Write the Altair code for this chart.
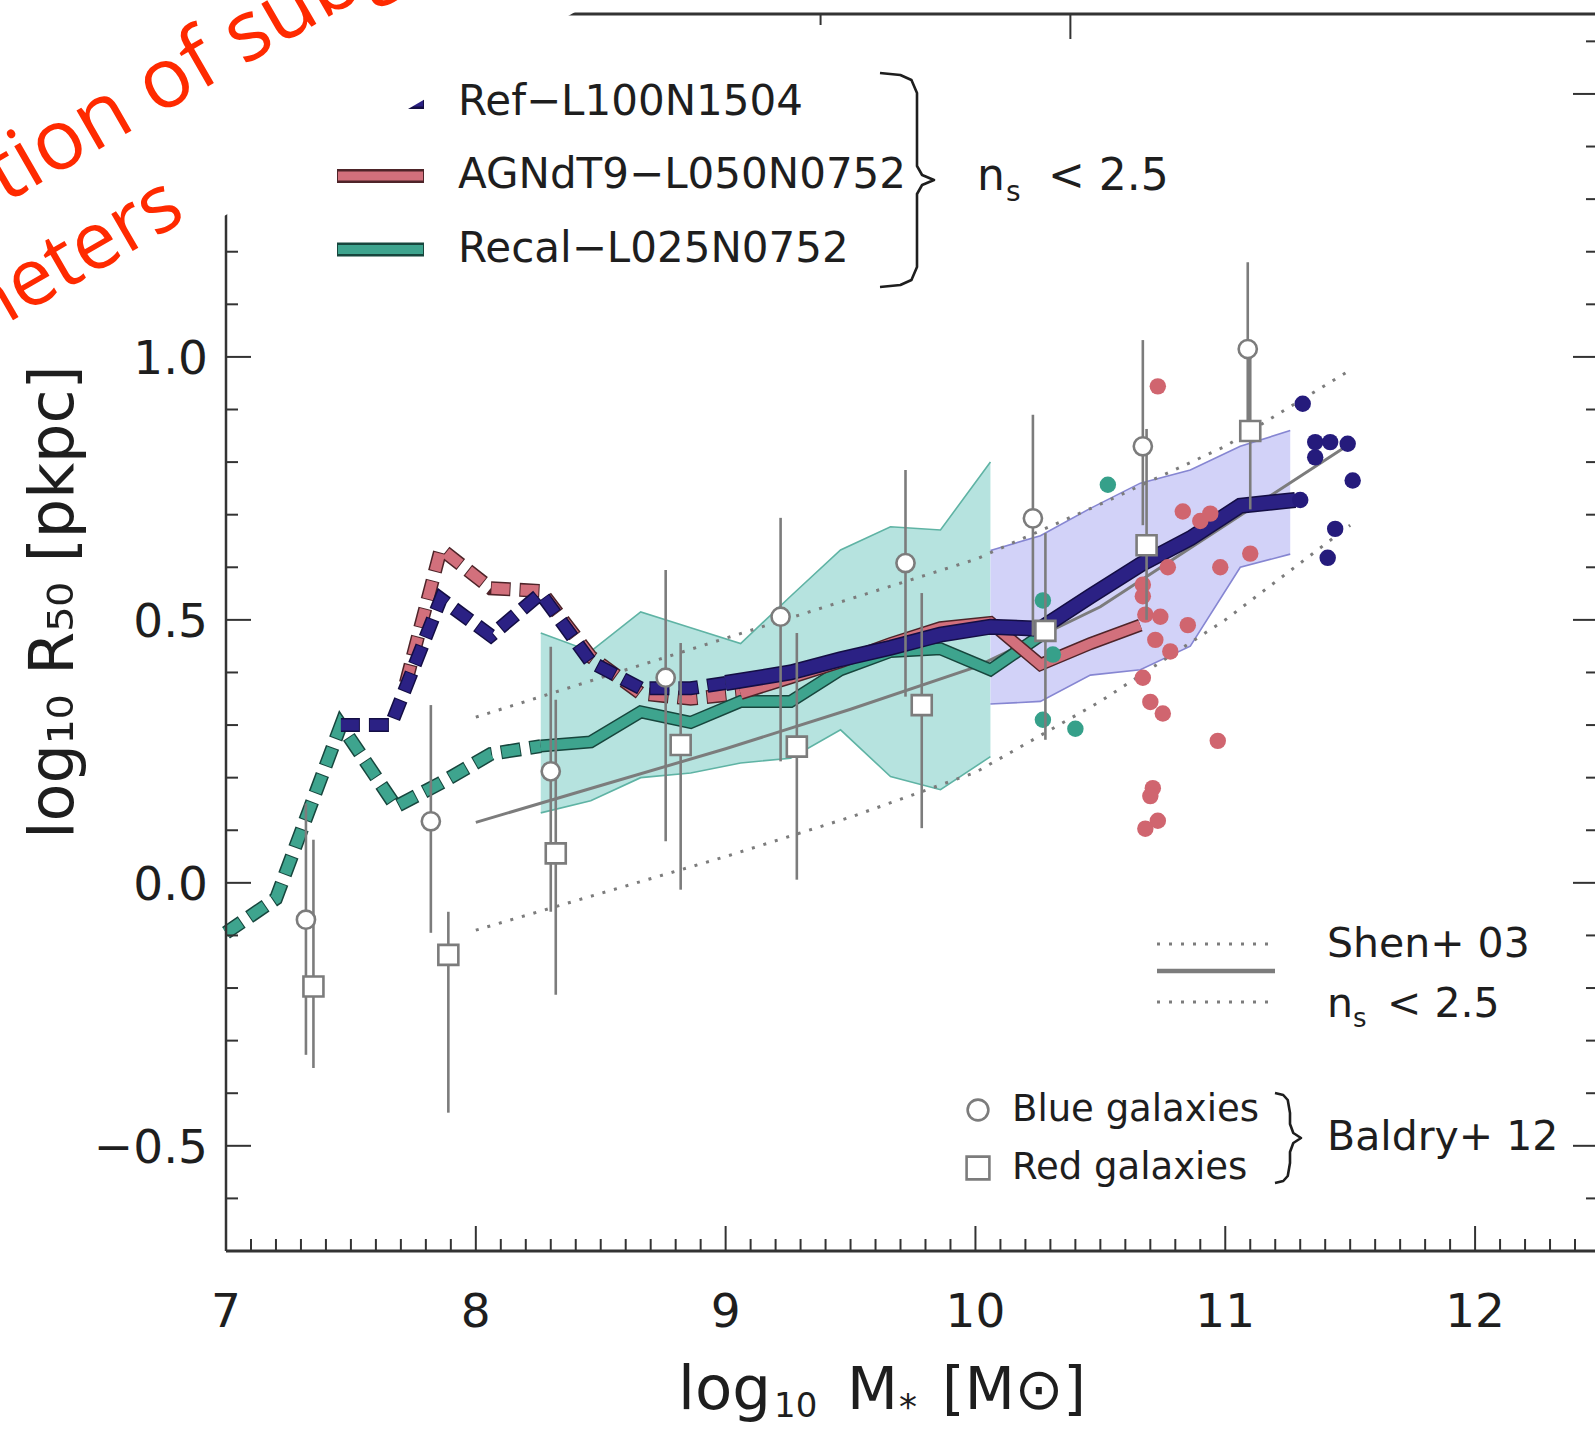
import altair as alt
import pandas as pd

# ---------------- plot geometry ----------------
X_DOMAIN = [7.0, 12.48]
Y_DOMAIN = [-0.70, 1.652]
W, H = 1369, 1237
PAD = {"left": 226, "top": 14, "right": 0, "bottom": 179}

# ---------------- simulation medians ----------------
recal_dash_x = [7.00, 7.20, 7.46, 7.68, 7.86, 8.06, 8.26]
recal_dash_y = [-0.095, -0.03, 0.30, 0.145, 0.19, 0.245, 0.26]
recal_x = [8.26, 8.46, 8.66, 8.86, 9.06, 9.26, 9.46, 9.66, 9.86, 10.06, 10.26]
recal_y = [0.26, 0.268, 0.325, 0.305, 0.345, 0.345, 0.405, 0.44, 0.445, 0.405, 0.47]

agn_dash_x = [7.72, 7.86, 8.06, 8.26, 8.46, 8.66, 8.86, 9.06]
agn_dash_y = [0.38, 0.635, 0.56, 0.555, 0.43, 0.36, 0.35, 0.36]
agn_x = [9.06, 9.26, 9.46, 9.66, 9.86, 10.06, 10.26, 10.46, 10.66]
agn_y = [0.36, 0.39, 0.42, 0.455, 0.485, 0.495, 0.415, 0.455, 0.49]

ref_dash_x = [7.46, 7.66, 7.86, 8.06, 8.26, 8.46, 8.66, 8.86, 9.00]
ref_dash_y = [0.30, 0.30, 0.54, 0.47, 0.55, 0.42, 0.37, 0.37, 0.38]
ref_x = [9.00, 9.26, 9.46, 9.66, 9.86, 10.06, 10.26, 10.46, 10.66, 10.86, 11.06, 11.28]
ref_y = [0.38, 0.40, 0.425, 0.447, 0.472, 0.487, 0.483, 0.545, 0.605, 0.655, 0.717, 0.728]

# ---------------- scatter bands ----------------
recal_band_x = [8.26, 8.46, 8.66, 8.86, 9.06, 9.26, 9.46, 9.66, 9.86, 10.06]
recal_band_lo = [0.133, 0.156, 0.20, 0.209, 0.228, 0.237, 0.291, 0.202, 0.177, 0.24]
recal_band_hi = [0.475, 0.44, 0.515, 0.485, 0.455, 0.545, 0.633, 0.677, 0.671, 0.80]

ref_band_x = [10.06, 10.26, 10.46, 10.66, 10.86, 11.06, 11.26]
ref_band_lo = [0.34, 0.345, 0.395, 0.405, 0.45, 0.60, 0.625]
ref_band_hi = [0.632, 0.66, 0.712, 0.76, 0.785, 0.83, 0.86]

# ---------------- individual galaxies ----------------
agn_pts_x = [10.73, 10.83, 10.90, 10.94, 11.10, 10.98, 10.67, 10.67, 10.68, 10.74, 10.85,
             10.72, 10.78, 10.67, 10.70, 10.75, 10.97, 10.71, 10.70, 10.73, 10.68, 10.77]
agn_pts_y = [0.944, 0.706, 0.688, 0.702, 0.626, 0.60, 0.567, 0.545, 0.51, 0.506, 0.49,
             0.462, 0.44, 0.39, 0.344, 0.322, 0.27, 0.18, 0.165, 0.118, 0.103, 0.60]
recal_pts_x = [10.53, 10.27, 10.31, 10.27, 10.40]
recal_pts_y = [0.757, 0.537, 0.434, 0.31, 0.293]
ref_pts_x = [11.31, 11.36, 11.42, 11.36, 11.49, 11.51, 11.44, 11.41, 11.30]
ref_pts_y = [0.911, 0.838, 0.838, 0.809, 0.835, 0.765, 0.673, 0.618, 0.728]

# ---------------- Shen+03 (n_s < 2.5) ----------------
shen_x = [8.0, 8.5, 9.0, 9.5, 10.0, 10.5, 11.0, 11.5]
shen_mid = [0.115, 0.185, 0.255, 0.33, 0.41, 0.525, 0.68, 0.835]
shen_hi = [0.315, 0.39, 0.465, 0.54, 0.615, 0.72, 0.83, 0.975]
shen_lo = [-0.09, -0.02, 0.05, 0.125, 0.21, 0.345, 0.50, 0.68]

# ---------------- Baldry+12 ----------------
blue_x = [7.32, 7.82, 8.30, 8.76, 9.22, 9.72, 10.23, 10.67, 11.09]
blue_y = [-0.07, 0.117, 0.212, 0.39, 0.506, 0.608, 0.693, 0.83, 1.015]
blue_lo = [-0.327, -0.095, -0.055, 0.079, 0.231, 0.354, 0.47, 0.68, 0.86]
blue_hi = [0.151, 0.338, 0.449, 0.595, 0.694, 0.785, 0.89, 1.032, 1.18]
red_x = [7.35, 7.89, 8.32, 8.82, 9.285, 9.785, 10.28, 10.685, 11.10]
red_y = [-0.197, -0.137, 0.056, 0.262, 0.259, 0.338, 0.479, 0.642, 0.859]
red_lo = [-0.352, -0.437, -0.213, -0.013, 0.006, 0.104, 0.272, 0.50, 0.71]
red_hi = [0.082, -0.055, 0.348, 0.456, 0.475, 0.551, 0.665, 0.863, 1.01]

# ---------------- ticks ----------------
x_major = [7, 8, 9, 10, 11, 12]
x_labels = ["7", "8", "9", "10", "11", "12"]
x_minor = [round(7 + 0.1 * i, 1) for i in range(1, 55) if i % 10]
y_major = [-0.5, 0.0, 0.5, 1.0, 1.5]
y_labels = ["−0.5", "0.0", "0.5", "1.0", "1.5"]
y_minor = [round(-0.7 + 0.1 * i, 1) for i in range(1, 24) if round(-0.7 + 0.1 * i, 1) not in y_major]
top_major = [10.38]
top_minor = [9.38]

# covering white panel edge (top-left corner of the figure is hidden)
overlay_x = [6.0, 8.481]
overlay_y = [0.994, 1.679]

# ---------------- colours ----------------
NAVY, NAVY_D = "#2b2184", "#140e44"
PINK, PINK_D = "#d2707c", "#4e2429"
TEAL, TEAL_D = "#3ea48e", "#17463d"
GRAY = "#7c7c7c"
AX = "#333333"
TXT = "#1e1e1e"
FONT = "DejaVu Sans"

xs = alt.Scale(domain=X_DOMAIN, nice=False, zero=False)
ys = alt.Scale(domain=Y_DOMAIN, nice=False, zero=False)


def X(f):
    return alt.X(f + ":Q", scale=xs, axis=None)


def Y(f):
    return alt.Y(f + ":Q", scale=ys, axis=None)


def px2x(px):
    return X_DOMAIN[0] + px / W * (X_DOMAIN[1] - X_DOMAIN[0])


def py2y(py):
    return Y_DOMAIN[1] - py / H * (Y_DOMAIN[1] - Y_DOMAIN[0])


one = pd.DataFrame({"a": [0]})
layers = []


# bands
def band(xv, lo, hi, fill, edge):
    df = pd.DataFrame({"x": xv, "lo": lo, "hi": hi})
    b = alt.Chart(df)
    return [
        b.mark_area(color=fill, opacity=1).encode(x=X("x"), y=Y("lo"), y2=alt.Y2("hi")),
        b.mark_line(color=edge, strokeWidth=1.6).encode(x=X("x"), y=Y("lo")),
        b.mark_line(color=edge, strokeWidth=1.6).encode(x=X("x"), y=Y("hi")),
    ]


layers += band(recal_band_x, recal_band_lo, recal_band_hi, "#b6e3df", "#5fb3a4")
layers += band(ref_band_x, ref_band_lo, ref_band_hi, "#d2d2f8", "#8686d2")

# Shen lines
shen = pd.DataFrame({"x": shen_x, "m": shen_mid, "h": shen_hi, "l": shen_lo})
for f in ["h", "l"]:
    layers.append(alt.Chart(shen).mark_line(color=GRAY, strokeWidth=3, strokeDash=[3, 9]).encode(
        x=X("x"), y=Y(f)))
layers.append(alt.Chart(shen).mark_line(color=GRAY, strokeWidth=3).encode(x=X("x"), y=Y("m")))

# simulation lines
DASH, GAP = 18, 11


def sim_line(xv, yv, color, dark, w, dashed):
    b = alt.Chart(pd.DataFrame({"x": xv, "y": yv}))
    kw = dict(strokeCap="butt", strokeJoin="miter", strokeMiterLimit=3)
    if dashed:
        o = b.mark_line(color=dark, strokeWidth=w + 3, strokeDash=[DASH + 2, GAP - 2],
                        strokeDashOffset=1, **kw)
        i = b.mark_line(color=color, strokeWidth=w, strokeDash=[DASH, GAP], **kw)
    else:
        o = b.mark_line(color=dark, strokeWidth=w + 3, **kw)
        i = b.mark_line(color=color, strokeWidth=w, **kw)
    return [o.encode(x=X("x"), y=Y("y")), i.encode(x=X("x"), y=Y("y"))]


layers += sim_line(recal_dash_x, recal_dash_y, TEAL, TEAL_D, 11, True)
layers += sim_line(agn_dash_x, agn_dash_y, PINK, PINK_D, 11, True)
layers += sim_line(ref_dash_x, ref_dash_y, NAVY, NAVY_D, 11, True)
layers += sim_line(recal_x, recal_y, TEAL, TEAL_D, 10, False)
layers += sim_line(agn_x, agn_y, PINK, PINK_D, 10, False)
layers += sim_line(ref_x, ref_y, NAVY, NAVY_D, 13, False)

# individual galaxies
for xv, yv, c in [(agn_pts_x, agn_pts_y, "#d0656f"), (recal_pts_x, recal_pts_y, "#36a08a"),
                  (ref_pts_x, ref_pts_y, "#251b7c")]:
    layers.append(alt.Chart(pd.DataFrame({"x": xv, "y": yv})).mark_circle(
        size=270, color=c, opacity=1).encode(x=X("x"), y=Y("y")))

# Baldry error bars and symbols
blue = pd.DataFrame({"x": blue_x, "y": blue_y, "lo": blue_lo, "hi": blue_hi})
red = pd.DataFrame({"x": red_x, "y": red_y, "lo": red_lo, "hi": red_hi})
for d in (blue, red):
    layers.append(alt.Chart(d).mark_rule(color=GRAY, strokeWidth=2.6).encode(
        x=X("x"), y=Y("lo"), y2=alt.Y2("hi")))
layers.append(alt.Chart(blue).mark_circle(size=330, color="white", stroke=GRAY, strokeWidth=2.6,
                                          opacity=1).encode(x=X("x"), y=Y("y")))
layers.append(alt.Chart(red).mark_square(size=400, color="white", stroke=GRAY, strokeWidth=2.6,
                                         opacity=1).encode(x=X("x"), y=Y("y")))

# frame
layers.append(alt.Chart(one).mark_rule(color=AX, strokeWidth=3).encode(
    x=alt.value(0), x2=alt.value(W), y=alt.value(H)))
layers.append(alt.Chart(one).mark_rule(color=AX, strokeWidth=2.5).encode(
    x=alt.value(0), y=alt.value(0), y2=alt.value(H)))
layers.append(alt.Chart(one).mark_rule(color=AX, strokeWidth=3).encode(
    x=alt.value(0), x2=alt.value(W), y=alt.value(0)))


def tick_df(v):
    return alt.Chart(pd.DataFrame({"v": v}))


TW = 2
layers.append(tick_df(x_major).mark_rule(color=AX, strokeWidth=TW).encode(
    x=X("v"), y=alt.value(H), y2=alt.value(H - 25)))
layers.append(tick_df(x_minor).mark_rule(color=AX, strokeWidth=TW).encode(
    x=X("v"), y=alt.value(H), y2=alt.value(H - 12)))
layers.append(tick_df(y_major).mark_rule(color=AX, strokeWidth=TW).encode(
    y=Y("v"), x=alt.value(0), x2=alt.value(25)))
layers.append(tick_df(y_minor).mark_rule(color=AX, strokeWidth=TW).encode(
    y=Y("v"), x=alt.value(0), x2=alt.value(12)))
layers.append(tick_df(y_major).mark_rule(color=AX, strokeWidth=TW).encode(
    y=Y("v"), x=alt.value(W), x2=alt.value(W - 22)))
layers.append(tick_df(y_minor).mark_rule(color=AX, strokeWidth=TW).encode(
    y=Y("v"), x=alt.value(W), x2=alt.value(W - 9)))
layers.append(tick_df(top_major).mark_rule(color=AX, strokeWidth=TW).encode(
    x=X("v"), y=alt.value(0), y2=alt.value(25)))
layers.append(tick_df(top_minor).mark_rule(color=AX, strokeWidth=TW).encode(
    x=X("v"), y=alt.value(0), y2=alt.value(11)))

# tick labels
layers.append(alt.Chart(pd.DataFrame({"v": x_major, "t": x_labels})).mark_text(
    align="center", baseline="alphabetic", font=FONT, fontSize=47, color=TXT).encode(
    x=X("v"), y=alt.value(H + 76), text="t:N"))
layers.append(alt.Chart(pd.DataFrame({"v": y_major, "t": y_labels})).mark_text(
    align="right", baseline="alphabetic", font=FONT, fontSize=47, color=TXT, dy=17).encode(
    y=Y("v"), x=alt.value(-18), text="t:N"))


# ---------------- text helper ----------------
def text(t, x, y, size=42, align="left", color=TXT, font=FONT, angle=0, baseline="middle"):
    kw = dict(align=align, baseline=baseline, font=font, fontSize=size, color=color)
    if angle:
        kw["angle"] = angle
    return alt.Chart(pd.DataFrame({"t": [t]})).mark_text(**kw).encode(
        x=alt.value(x), y=alt.value(y), text="t:N")


# axis titles
XB = H + 158
layers.append(text("log", 452, XB, size=61, baseline="alphabetic"))
layers.append(text("10", 548, XB + 8, size=34, baseline="alphabetic"))
layers.append(text("M", 621, XB, size=59, baseline="alphabetic"))
layers.append(text("*", 673, XB + 10, size=36, baseline="alphabetic"))
layers.append(text("[M⊙]", 716, XB, size=58, baseline="alphabetic"))
layers.append(text("log₁₀ R₅₀ [pkpc]", -153, 588, size=62, align="center", baseline="alphabetic",
                   angle=270))


# ---------------- legends ----------------
def sample(y, color, dark):
    return [
        alt.Chart(one).mark_rule(color=dark, strokeWidth=14, strokeCap="butt").encode(
            x=alt.value(111), x2=alt.value(198), y=alt.value(y)),
        alt.Chart(one).mark_rule(color=color, strokeWidth=9, strokeCap="butt").encode(
            x=alt.value(112), x2=alt.value(197), y=alt.value(y)),
    ]


layers += sample(88, NAVY, NAVY_D)
layers += sample(162, PINK, PINK_D)
layers += sample(235.5, TEAL, TEAL_D)
layers.append(text("Ref−L100N1504", 232, 88))
layers.append(text("AGNdT9−L050N0752", 232, 161))
layers.append(text("Recal−L025N0752", 232, 235))


def brace(xl, xv, xt, yt, yb):
    ym = (yt + yb) / 2
    h = xv - xl
    t = xt - xv
    pts = [(xl, yt), (xl + 0.55 * h, yt + 2), (xv - 0.15 * h, yt + 7), (xv, yt + 20),
           (xv, ym - 14), (xv + 0.3 * t, ym - 5), (xt, ym), (xv + 0.3 * t, ym + 5),
           (xv, ym + 14), (xv, yb - 20), (xv - 0.15 * h, yb - 7), (xl + 0.55 * h, yb - 2),
           (xl, yb)]
    df = pd.DataFrame({"i": list(range(len(pts))),
                       "x": [px2x(p[0]) for p in pts], "y": [py2y(p[1]) for p in pts]})
    return alt.Chart(df).mark_line(color=TXT, strokeWidth=2.6, strokeJoin="round").encode(
        x=X("x"), y=Y("y"), order="i:Q")


layers.append(brace(654, 691, 708, 59, 273))
layers.append(text("n", 751, 163, size=44))
layers.append(text("s", 780, 179, size=28))
layers.append(text("< 2.5", 822, 163, size=44))

# Shen legend
for yy, dash in [(930, True), (957, False), (988, True)]:
    kw = dict(color=GRAY, strokeWidth=3 if dash else 4.5)
    if dash:
        kw["strokeDash"] = [3, 9]
    layers.append(alt.Chart(one).mark_rule(**kw).encode(
        x=alt.value(931), x2=alt.value(1049), y=alt.value(yy)))
layers.append(text("Shen+ 03", 1101, 931, size=41))
layers.append(text("n", 1101, 991, size=41))
layers.append(text("s", 1127, 1005, size=26))
layers.append(text("< 2.5", 1161, 991, size=41))

# Baldry legend
layers.append(alt.Chart(one).mark_circle(size=430, color="white", stroke=GRAY, strokeWidth=2.6,
                                         opacity=1).encode(x=alt.value(752), y=alt.value(1096)))
layers.append(alt.Chart(one).mark_square(size=520, color="white", stroke=GRAY, strokeWidth=2.6,
                                         opacity=1).encode(x=alt.value(752), y=alt.value(1154)))
layers.append(text("Blue galaxies", 786, 1096, size=37))
layers.append(text("Red galaxies", 786, 1154, size=37))
layers.append(brace(1049, 1064, 1075, 1079, 1169))
layers.append(text("Baldry+ 12", 1101, 1124, size=41))

# white panel covering the top-left corner
ov = pd.DataFrame({"x": overlay_x, "y": overlay_y, "top": [1.75, 1.75]})
layers.append(alt.Chart(ov).mark_area(color="white", opacity=1).encode(
    x=X("x"), y=Y("y"), y2=alt.Y2("top")))

# red slide caption
RED = "#ff2a00"
layers.append(text("Calibration of subgrid", -459, 327, size=84, color=RED, font="Open Sans",
                   angle=330, baseline="alphabetic"))
layers.append(text("parameters", -38, 205, size=80, color=RED, font="Open Sans",
                   align="right", angle=330, baseline="alphabetic"))

chart = alt.layer(*layers).properties(
    width=W, height=H,
    autosize=alt.AutoSizeParams(type="none"),
    padding=PAD,
    background="white",
).configure_view(stroke=None)

chart.save("out.html", embed_options={"renderer": "svg", "actions": False})
